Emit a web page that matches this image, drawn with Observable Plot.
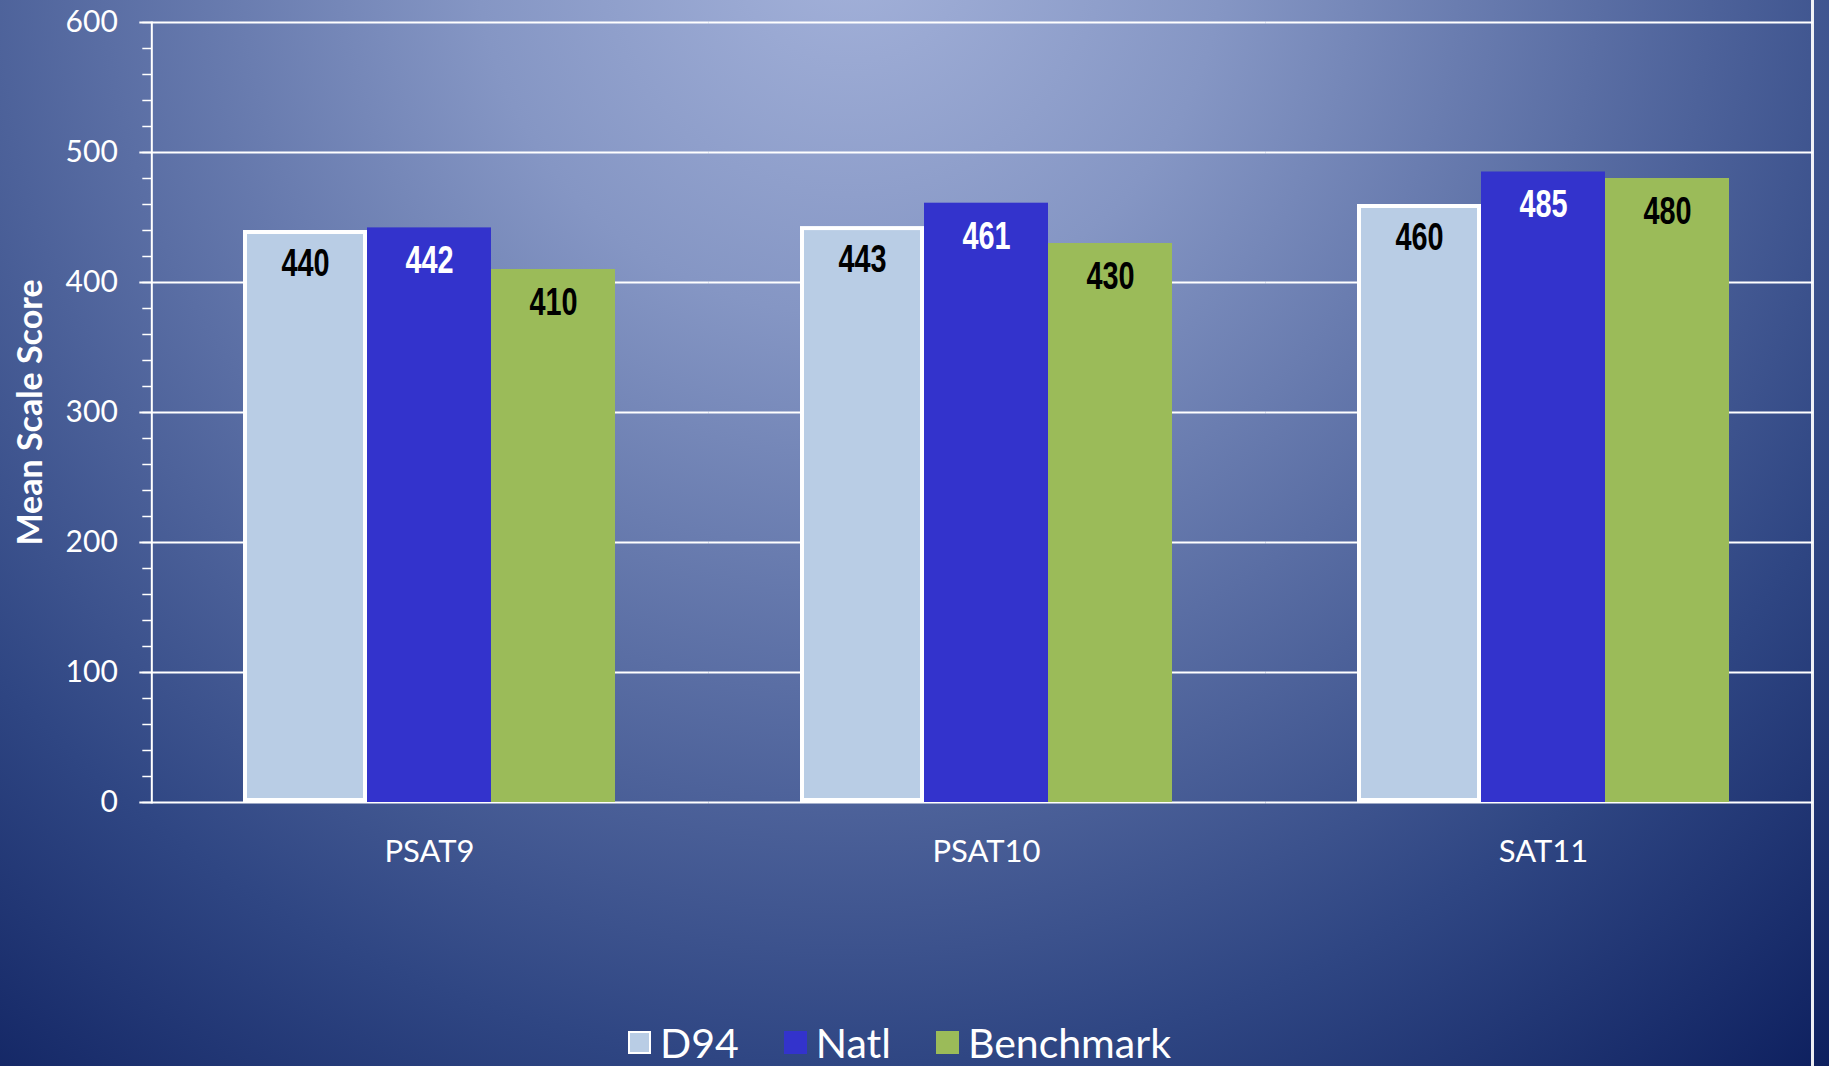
<!DOCTYPE html>
<html>
<head>
<meta charset="utf-8">
<script src="https://cdn.jsdelivr.net/npm/d3@7"></script>
<script src="https://cdn.jsdelivr.net/npm/@observablehq/plot@0.6"></script>
<style>
  html, body { margin: 0; padding: 0; width: 1829px; height: 1066px; overflow: hidden; }
  body {
    position: relative;
    background: radial-gradient(circle 1500px at 850px -60px, #a4b2da 0%, #8596c4 25%, #5a6ea4 50%, #2f4683 75%, #0d1f5e 100%);
    font-family: Lato, "Open Sans", sans-serif;
  }
  #chart { position: absolute; left: 0; top: 0; width: 1813px; height: 1000px; overflow: hidden; }
  #chart svg { max-width: none; width: 1829px; }
  #legend { position: absolute; left: 628px; top: 1022px; display: flex; align-items: center; color: white; font-size: 41px; line-height: 1; }
  .item { display: flex; align-items: center; margin-right: 45px; }
  .sw { width: 23px; height: 23px; margin-right: 9px; box-sizing: border-box; }
  #edge { position: absolute; left: 1811px; top: 0; width: 3px; height: 1066px; background: rgba(255,255,255,0.92); }
</style>
</head>
<body>
<div id="chart"></div>
<div id="legend"></div>
<div id="edge"></div>
<script>
const categories = ["PSAT9", "PSAT10", "SAT11"];
const seriesNames = ["D94", "Natl", "Benchmark"];
const seriesColors = ["#b9cde5", "#3333cc", "#9bbb59"];
const d94 = [440, 443, 460];
const natl = [442, 461, 485];
const benchmark = [410, 430, 480];
const yMajorTicks = [0, 100, 200, 300, 400, 500, 600];
const yMinorTicks = d3.range(0, 601, 20);
const yLabel = "Mean Scale Score";

const seriesValues = [d94, natl, benchmark];
const data = categories.flatMap((c, i) =>
  seriesNames.map((s, j) => ({category: c, series: s, value: seriesValues[j][i]}))
);

// layout
const W = 1829, H = 1000, mL = 150, mR = 17, mT = 22, mB = 198;
const padIn = 0.3315, padOut = 0.155, align = 0.53;
const n = categories.length;
const range = W - mL - mR;
const step = range / (n - padIn + 2 * padOut);
const leftOuter = (range - step * (n - padIn)) * align; // frame left edge -> first facet
const gap = step * padIn;                                  // gap between facets

const labelFont = "'Liberation Sans', Arial, sans-serif";

const chart = Plot.plot({
  width: W,
  height: H,
  marginLeft: mL,
  marginRight: mR,
  marginTop: mT,
  marginBottom: mB,
  style: {background: "transparent", color: "white", fontFamily: "Lato, 'Open Sans', sans-serif"},
  fx: {domain: categories, paddingInner: padIn, paddingOuter: padOut, align, label: null, axis: null},
  x: {domain: seriesNames, padding: 0, axis: null},
  y: {domain: [0, 600], axis: null},
  color: {domain: seriesNames, range: seriesColors},
  marks: [
    Plot.ruleY(yMajorTicks, {stroke: "white", strokeWidth: 2, insetLeft: -leftOuter, insetRight: -(gap - leftOuter)}),
    Plot.axisY({ticks: yMinorTicks, tickSize: 9, tickFormat: () => "", stroke: "white", strokeWidth: 1.5, dx: -leftOuter, label: null}),
    Plot.axisY({ticks: yMajorTicks, tickSize: 12, tickPadding: 22, fontSize: 30, fill: "white", stroke: "white", strokeWidth: 2, dx: -leftOuter, label: null}),
    Plot.frame({anchor: "left", facetAnchor: "left", stroke: "white", strokeWidth: 2, dx: -leftOuter}),
    Plot.axisFx({anchor: "bottom", tickSize: 0, tickPadding: 37, fontSize: 31, fill: "white", label: null}),
    Plot.barY(data.filter(d => d.series !== "D94"), {fx: "category", x: "series", y: "value", fill: "series"}),
    Plot.barY(data.filter(d => d.series === "D94"), {fx: "category", x: "series", y: "value", fill: "series", stroke: "white", strokeWidth: 4, inset: 2}),
    Plot.text(data.filter(d => d.series !== "Natl"), {fx: "category", x: "series", y: "value", text: d => String(d.value), dy: 33, fill: "black", fontSize: 39, fontWeight: "bold", fontFamily: labelFont, lineAnchor: "middle"}),
    Plot.text(data.filter(d => d.series === "Natl"), {fx: "category", x: "series", y: "value", text: d => String(d.value), dy: 33, fill: "white", fontSize: 39, fontWeight: "bold", fontFamily: labelFont, lineAnchor: "middle"}),
    Plot.text([yLabel], {frameAnchor: "left", facetAnchor: "left", textAnchor: "middle", rotate: -90, dx: -leftOuter - 121, fill: "white", fontSize: 34, fontWeight: "bold"})
  ]
});

// condensed look for the value labels (narrow bold face)
chart.querySelectorAll('g[font-family*="Liberation Sans"] text').forEach(t => {
  const tr = t.getAttribute("transform") || "";
  t.setAttribute("transform", tr + " scale(0.74,1)");
});

document.getElementById("chart").appendChild(chart);

const legend = document.getElementById("legend");
seriesNames.forEach((name, i) => {
  const item = document.createElement("div");
  item.className = "item";
  const sw = document.createElement("div");
  sw.className = "sw";
  sw.style.background = seriesColors[i];
  if (name === "D94") sw.style.border = "2px solid white";
  const label = document.createElement("span");
  label.textContent = name;
  item.appendChild(sw);
  item.appendChild(label);
  legend.appendChild(item);
});
</script>
</body>
</html>
